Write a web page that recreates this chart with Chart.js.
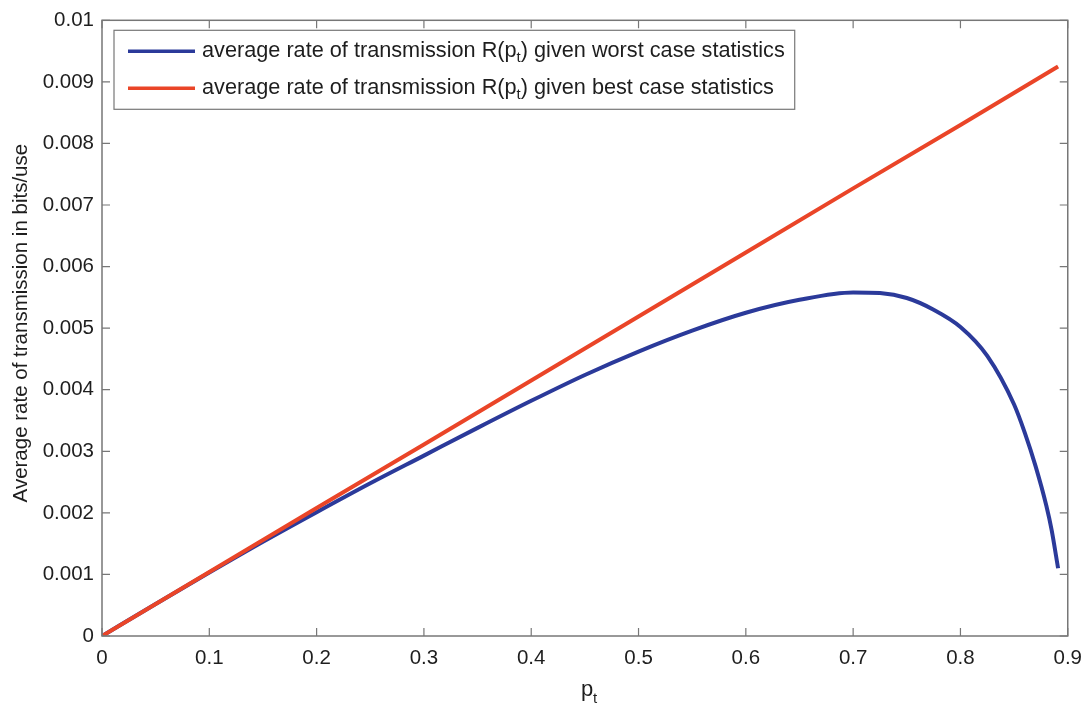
<!DOCTYPE html>
<html>
<head>
<meta charset="utf-8">
<script src="https://cdn.jsdelivr.net/npm/chart.js@4/dist/chart.umd.min.js"></script>
<style>
  html, body { margin: 0; padding: 0; background: #fff; }
  #wrap { width: 1092px; height: 707px; position: relative; }
</style>
</head>
<body>
<div id="wrap"><canvas id="rateChart"></canvas></div>
<script>
// transmission probability p_t on the x axis
const xTicks = [0, 0.1, 0.2, 0.3, 0.4, 0.5, 0.6, 0.7, 0.8, 0.9];
const xTickLabels = ['0', '0.1', '0.2', '0.3', '0.4', '0.5', '0.6', '0.7', '0.8', '0.9'];
const yTicks = [0, 0.001, 0.002, 0.003, 0.004, 0.005, 0.006, 0.007, 0.008, 0.009, 0.01];
const yTickLabels = ['0', '0.001', '0.002', '0.003', '0.004', '0.005', '0.006', '0.007', '0.008', '0.009', '0.01'];

// worst case statistics
const worstP = [0, 0.05, 0.1, 0.15, 0.2, 0.25, 0.3, 0.35, 0.4, 0.45, 0.5, 0.55, 0.6, 0.65, 0.7, 0.725, 0.75, 0.775, 0.8, 0.825, 0.85, 0.86, 0.87, 0.88, 0.885, 0.891];
const worstRate = [0, 0.00052, 0.00103, 0.00153, 0.00201, 0.00248, 0.00293, 0.00338, 0.00382, 0.00424, 0.00462, 0.00496, 0.00525, 0.00546, 0.00558, 0.00557, 0.00549, 0.0053, 0.00502, 0.00455, 0.00376, 0.0033, 0.00276, 0.00212, 0.00172, 0.0011];

// best case statistics
const bestP = [0, 0.1, 0.2, 0.3, 0.4, 0.5, 0.6, 0.7, 0.8, 0.891];
const bestRate = [0, 0.00104, 0.00208, 0.00311, 0.00415, 0.00519, 0.00623, 0.00727, 0.0083, 0.00925];

const legendLabels = [
    ['average rate of transmission R(p', 't', ') given worst case statistics'],
    ['average rate of transmission R(p', 't', ') given best case statistics']
];

const FONT = '"Liberation Sans", Arial, Helvetica, sans-serif';
const TEXT = '#1e1e1e';
const FRAME = '#777777';
const TICK_SIZE = 20.5;
const LEGEND_SIZE = 21.7;

const toPoints = (xs, ys) => xs.map((x, i) => ({ x: x, y: ys[i] }));

// draws text made of [normal, subscript, normal] pieces
function drawSubText(ctx, parts, x, y, size) {
    ctx.font = size + 'px ' + FONT;
    ctx.fillText(parts[0], x, y);
    let w = ctx.measureText(parts[0]).width;
    ctx.font = Math.round(size * 0.7) + 'px ' + FONT;
    ctx.fillText(parts[1], x + w, y + size * 0.32);
    w += ctx.measureText(parts[1]).width;
    ctx.font = size + 'px ' + FONT;
    ctx.fillText(parts[2], x + w, y);
    return w + ctx.measureText(parts[2]).width;
}

function measureSubText(ctx, parts, size) {
    ctx.font = size + 'px ' + FONT;
    let w = ctx.measureText(parts[0]).width + ctx.measureText(parts[2]).width;
    ctx.font = Math.round(size * 0.7) + 'px ' + FONT;
    return w + ctx.measureText(parts[1]).width;
}

// box around the plot with inward ticks on all four sides
const frameTicks = {
    id: 'frameTicks',
    afterDatasetsDraw(chart) {
        const { ctx, chartArea: a, scales } = chart;
        ctx.save();
        ctx.strokeStyle = FRAME;
        ctx.lineWidth = 1.5;
        ctx.strokeRect(a.left, a.top, a.right - a.left, a.bottom - a.top);
        ctx.lineWidth = 1.2;
        ctx.beginPath();
        scales.x.ticks.forEach(t => {
            const px = scales.x.getPixelForValue(t.value);
            ctx.moveTo(px, a.bottom); ctx.lineTo(px, a.bottom - 8);
            ctx.moveTo(px, a.top); ctx.lineTo(px, a.top + 8);
        });
        scales.y.ticks.forEach(t => {
            const py = scales.y.getPixelForValue(t.value);
            ctx.moveTo(a.left, py); ctx.lineTo(a.left + 8, py);
            ctx.moveTo(a.right, py); ctx.lineTo(a.right - 8, py);
        });
        ctx.stroke();
        ctx.restore();
    }
};

// legend box in the upper left corner of the plot
const legendBox = {
    id: 'legendBox',
    afterDraw(chart) {
        const { ctx, chartArea: a } = chart;
        ctx.save();
        const textW = Math.max(...legendLabels.map(p => measureSubText(ctx, p, LEGEND_SIZE)));
        const bx = a.left + 12, by = a.top + 10;
        const bw = 88 + textW + 10, bh = 79;
        ctx.fillStyle = '#fff';
        ctx.fillRect(bx, by, bw, bh);
        ctx.strokeStyle = FRAME;
        ctx.lineWidth = 1.2;
        ctx.strokeRect(bx, by, bw, bh);
        [0, 1].forEach(i => {
            const ds = chart.data.datasets[i];
            const ly = by + 21 + i * 37;
            ctx.strokeStyle = ds.borderColor;
            ctx.lineWidth = 3.5;
            ctx.beginPath();
            ctx.moveTo(bx + 14, ly); ctx.lineTo(bx + 81, ly);
            ctx.stroke();
            ctx.fillStyle = TEXT;
            ctx.textBaseline = 'middle';
            drawSubText(ctx, legendLabels[i], bx + 88, ly, LEGEND_SIZE);
        });
        ctx.restore();
    }
};

// axis titles, the x title carries a subscript
const axisTitles = {
    id: 'axisTitles',
    afterDraw(chart) {
        const { ctx, chartArea: a } = chart;
        ctx.save();
        ctx.fillStyle = TEXT;
        ctx.textBaseline = 'alphabetic';
        const cx = (a.left + a.right) / 2;
        drawSubText(ctx, ['p', 't', ''], cx - 4, 696, 22);
        ctx.translate(27, (a.top + a.bottom) / 2 - 5);
        ctx.rotate(-Math.PI / 2);
        ctx.textAlign = 'center';
        ctx.font = TICK_SIZE + 'px ' + FONT;
        ctx.fillText('Average rate of transmission in bits/use', 0, 0);
        ctx.restore();
    }
};

new Chart(document.getElementById('rateChart'), {
    type: 'line',
    data: {
        datasets: [
            {
                label: 'worst case',
                data: toPoints(worstP, worstRate),
                borderColor: '#2b3a9a',
                borderWidth: 4,
                pointRadius: 0,
                cubicInterpolationMode: 'monotone',
                order: 2
            },
            {
                label: 'best case',
                data: toPoints(bestP, bestRate),
                borderColor: '#ea4528',
                borderWidth: 4,
                pointRadius: 0,
                order: 1
            }
        ]
    },
    options: {
        responsive: true,
        maintainAspectRatio: false,
        animation: false,
        layout: { padding: { left: 0, top: 19, right: 20, bottom: 0 } },
        plugins: { legend: { display: false }, tooltip: { enabled: false } },
        scales: {
            x: {
                type: 'linear',
                min: 0,
                max: 0.9,
                afterBuildTicks: s => { s.ticks = xTicks.map(v => ({ value: v })); },
                afterFit: s => { s.height = 71; },
                grid: { display: false, drawTicks: false },
                border: { display: false },
                ticks: {
                    padding: 10,
                    maxRotation: 0,
                    color: TEXT,
                    font: { family: FONT, size: TICK_SIZE },
                    callback: (v, i) => xTickLabels[i]
                }
            },
            y: {
                type: 'linear',
                min: 0,
                max: 0.01,
                afterBuildTicks: s => { s.ticks = yTicks.map(v => ({ value: v })); },
                afterFit: s => { s.width = 102; },
                grid: { display: false, drawTicks: false },
                border: { display: false },
                ticks: {
                    padding: 8,
                    color: TEXT,
                    font: { family: FONT, size: TICK_SIZE },
                    callback: (v, i) => yTickLabels[i]
                }
            }
        }
    },
    plugins: [frameTicks, legendBox, axisTitles]
});
</script>
</body>
</html>
